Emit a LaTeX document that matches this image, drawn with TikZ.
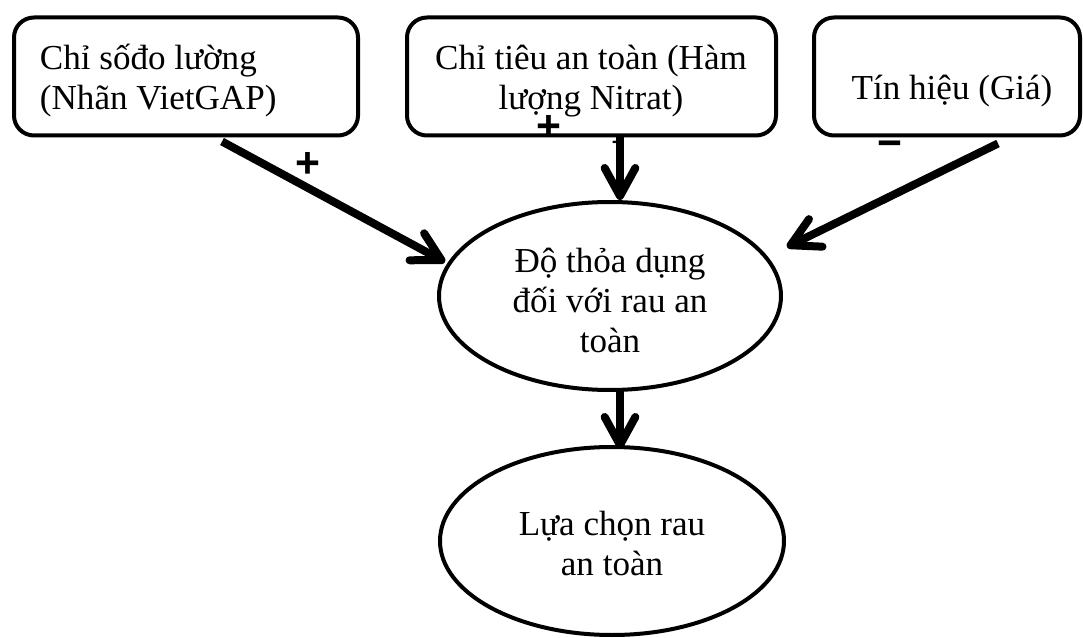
\documentclass[tikz,border=0pt]{standalone}
\usepackage{fontspec}
\setmainfont{Liberation Serif}
\newfontfamily\signfont{Liberation Sans}
\usetikzlibrary{arrows.meta,calc,shapes.geometric}

\begin{document}
\begin{tikzpicture}[x=0.75pt,y=-0.75pt,
  every node/.style={inner sep=0pt, outer sep=0pt},
  box/.style={draw, line width=3pt, rounded corners=15pt, minimum height=88.5pt},
  oval/.style={draw, ellipse, line width=3pt, minimum height=141pt},
  lbl/.style={font=\fontsize{26.3}{30}\selectfont},
  sign/.style={font=\signfont\bfseries\fontsize{32}{32}\selectfont},
  flow/.style={line width=6pt, -{Straight Barb[length=21pt,width=23pt,round]},
    preaction={draw=black!22, transform canvas={shift={(1.5pt,-2.2pt)}}}}]
\useasboundingbox (0,0) rectangle (1083,638);

% factor boxes
\node[box, minimum width=258pt]    (b1) at (186,76.5) {};
\node[box, minimum width=276.75pt] (b2) at (591.5,76.5) {};
\node[box, minimum width=199.5pt]  (b3) at (947,76.5) {};

% utility and choice
\node[oval, minimum width=256.5pt] (e1) at (610,296) {};
\node[oval, minimum width=258pt]   (e2) at (612,541) {};

% texts
\node[lbl, anchor=base west] (l1) at (40,70)
  {\begin{tabular}[t]{@{}l@{}}Chỉ sốđo lường\\(Nhãn VietGAP)\end{tabular}};
\node[lbl, anchor=base] (l2) at (591,70)
  {\begin{tabular}[t]{@{}c@{}}Chỉ tiêu an toàn (Hàm\\lượng Nitrat)\end{tabular}};
\node[lbl, anchor=base] (l3) at (952,100) {Tín hiệu (Giá)};
\node[lbl, anchor=base] (l4) at (610,273)
  {\begin{tabular}[t]{@{}c@{}}Độ thỏa dụng\\đối với rau an\\toàn\end{tabular}};
\node[lbl, anchor=base] (l5) at (612,535)
  {\begin{tabular}[t]{@{}c@{}}Lựa chọn rau\\an toàn\end{tabular}};

% signs
\node[sign] (s1) at (308,165) {+};
\node[sign] (s2) at (549,128) {+};
\node[sign, font=\signfont\bfseries\fontsize{16}{16}\selectfont] (s3) at (618,145) {−};
\node[sign] (s4) at (890,149) {−};

% influences
\draw[flow] ($(b1.south)+(36,6)$) -- ($(e1.west)+(6,-34)$);
\draw[flow] ($(b2.south)+(28.5,0)$) -- ($(e1.north)+(10,-2)$);
\draw[flow] ($(b3.south)+(51,8)$) -- ($(e1.east)+(6,-49)$);
\draw[flow] ($(e1.south)+(10,0)$) -- ($(e2.north)+(8,2)$);
\end{tikzpicture}
\end{document}
